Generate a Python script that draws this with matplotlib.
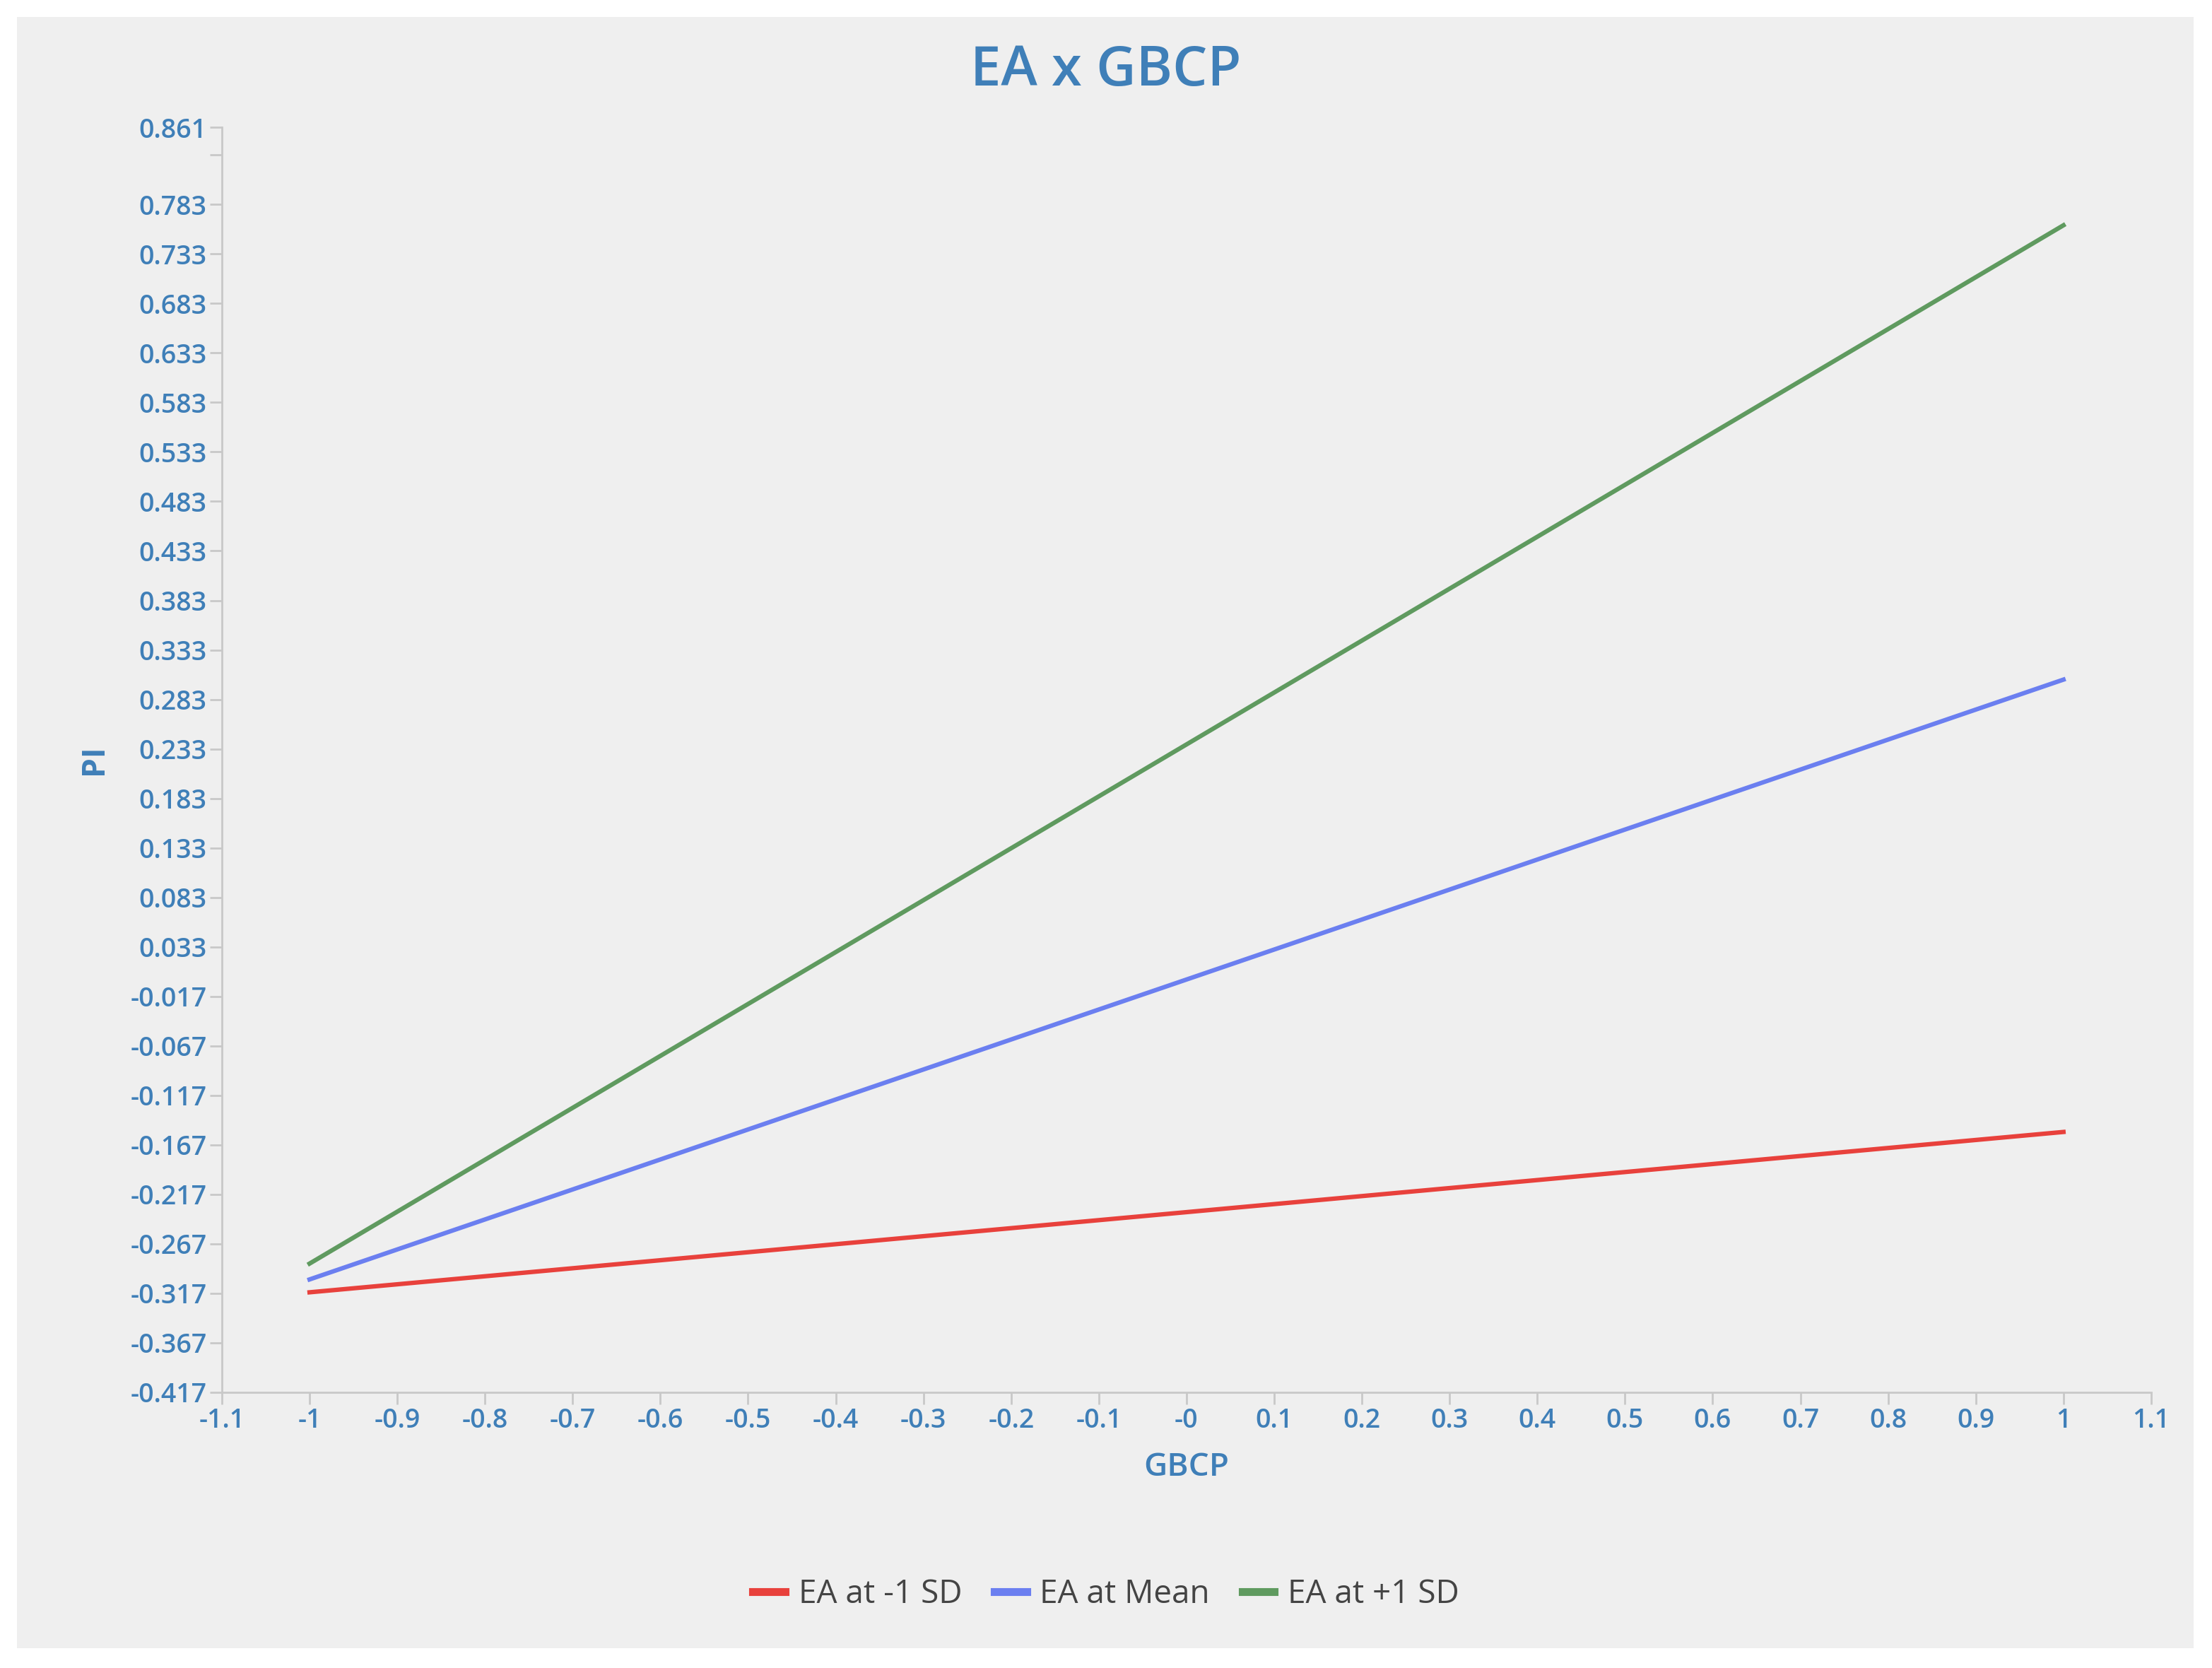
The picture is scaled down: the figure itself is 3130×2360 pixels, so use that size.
import numpy as np
import matplotlib.pyplot as plt
from matplotlib.patches import Rectangle

plt.rcParams['font.family'] = ['Open Sans', 'DejaVu Sans']

# simple slopes: PI at GBCP = -1 and +1
gbcp = [-1, 1]
series_names = ["EA at -1 SD", "EA at Mean", "EA at +1 SD"]
pi_low = [-0.316, -0.154]
pi_mean = [-0.303, 0.303]
pi_high = [-0.287, 0.762]
colors = ["#e8413c", "#6b7ff0", "#5f9a5f"]

x_ticks = np.round(np.arange(-1.1, 1.1001, 0.1), 1)
x_labels = ["-0" if abs(v) < 1e-9 else f"{v:g}" for v in x_ticks]
y_ticks = list(np.round(np.arange(-0.417, 0.79, 0.05), 3)) + [0.861]

text_color = "#3f7fb8"
bg = "#efefef"

fig = plt.figure(figsize=(31.3, 23.6), dpi=100, facecolor="white")
fig.patches.append(Rectangle((24 / 3130, 1 - 2332 / 2360), 3080 / 3130, 2308 / 2360,
                             transform=fig.transFigure, facecolor=bg, edgecolor="none", zorder=-1))

ax = fig.add_axes([0.1003, 0.1653, 0.8722, 0.7584])
ax.set_facecolor(bg)

for name, ys, c in zip(series_names, [pi_low, pi_mean, pi_high], colors):
    ax.plot(gbcp, ys, color=c, lw=4.5, label=name)

ax.set_xlim(-1.1, 1.1)
ax.set_ylim(-0.417, 0.861)
ax.set_xticks(x_ticks)
ax.set_xticklabels(x_labels)
ax.set_yticks(y_ticks)
ax.set_yticklabels([f"{v:.3f}" for v in y_ticks])
ax.set_yticks([0.833], minor=True)

for s in ["top", "right"]:
    ax.spines[s].set_visible(False)
for s in ["left", "bottom"]:
    ax.spines[s].set_color("#c8c8c8")
    ax.spines[s].set_linewidth(2)
ax.tick_params(which="both", colors="#c8c8c8", labelcolor=text_color, labelsize=27,
               length=12, width=2)
for lbl in ax.get_xticklabels() + ax.get_yticklabels():
    lbl.set_fontweight("semibold")

ax.set_xlabel("GBCP", color=text_color, fontsize=33, fontweight="semibold", labelpad=18)
ax.set_ylabel("PI", color=text_color, fontsize=32, fontweight="bold", labelpad=20)
fig.text(0.5, 0.957, "EA x GBCP", ha="center", va="center", color=text_color,
         fontsize=56, fontweight="semibold")

leg = fig.legend(loc="center", bbox_to_anchor=(0.5, 0.044), ncol=3, frameon=False,
                 fontsize=33, labelcolor="#444444", handlelength=1.0, handletextpad=0.4,
                 columnspacing=1.0)
for h in leg.get_lines():
    h.set_linewidth(8)

fig.savefig("out.png", dpi=100, facecolor="white")
